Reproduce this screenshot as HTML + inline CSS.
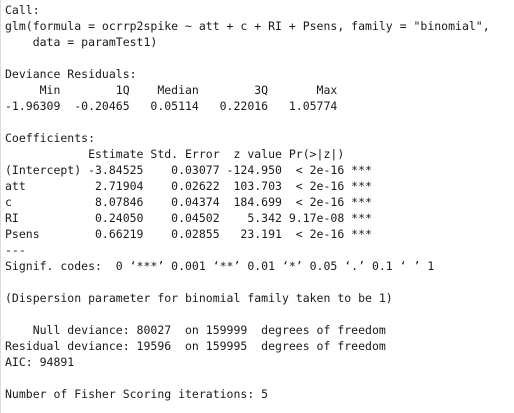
<!DOCTYPE html>
<html><head><meta charset="utf-8"><style>
html,body{margin:0;padding:0;background:#fff;width:514px;height:413px;overflow:hidden}
pre{margin:0;position:absolute;left:5px;top:2px;font-family:"DejaVu Sans Mono","Liberation Mono",monospace;font-size:11.5px;line-height:16px;color:#1a1a1a}
.edge{position:absolute;left:0;top:0;width:1px;height:413px;background:#ddd}
</style></head><body>
<div class="edge"></div>
<pre>Call:
glm(formula = ocrrp2spike ~ att + c + RI + Psens, family = "binomial",
    data = paramTest1)

Deviance Residuals:
     Min        1Q    Median        3Q       Max
-1.96309  -0.20465   0.05114   0.22016   1.05774

Coefficients:
            Estimate Std. Error  z value Pr(&gt;|z|)
(Intercept) -3.84525    0.03077 -124.950  &lt; 2e-16 ***
att          2.71904    0.02622  103.703  &lt; 2e-16 ***
c            8.07846    0.04374  184.699  &lt; 2e-16 ***
RI           0.24050    0.04502    5.342 9.17e-08 ***
Psens        0.66219    0.02855   23.191  &lt; 2e-16 ***
---
Signif. codes:  0 ‘***’ 0.001 ‘**’ 0.01 ‘*’ 0.05 ‘.’ 0.1 ‘ ’ 1

(Dispersion parameter for binomial family taken to be 1)

    Null deviance: 80027  on 159999  degrees of freedom
Residual deviance: 19596  on 159995  degrees of freedom
AIC: 94891

Number of Fisher Scoring iterations: 5</pre>
</body></html>
